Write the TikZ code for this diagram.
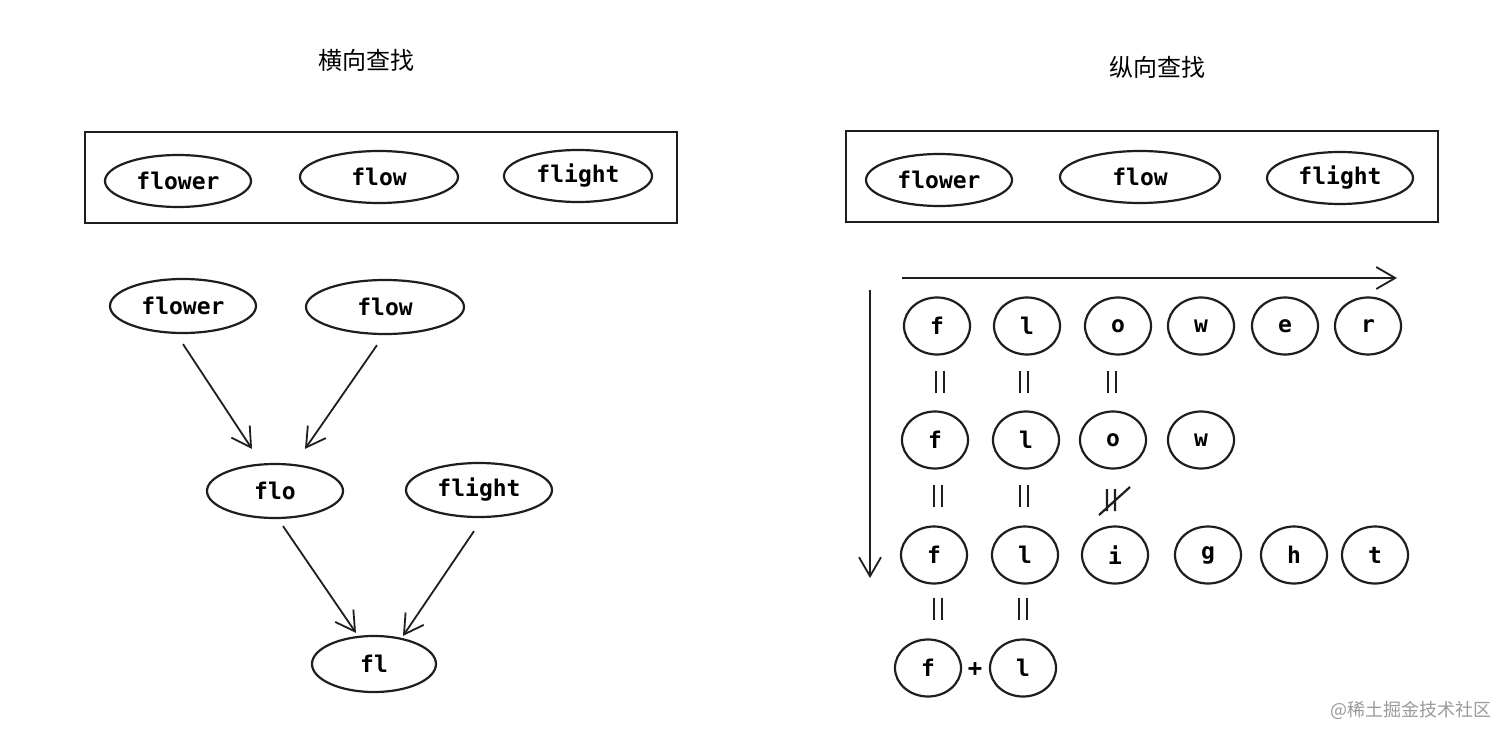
\documentclass[tikz,border=0pt]{standalone}
\usepackage{fontspec}
\setmonofont{DejaVu Sans Mono}
\newfontfamily\cjk{Noto Sans CJK SC}
\usetikzlibrary{arrows.meta,shapes.geometric}
\definecolor{Ink}{HTML}{1E1E1E}
\definecolor{Mark}{HTML}{9A9A9A}
\tikzset{
  frame/.style={draw=Ink,line width=2.2pt},
  word/.style={ellipse,draw=Ink,line width=2.2pt,inner sep=0pt,minimum height=52pt,font=\fontsize{23}{23}\ttfamily\bfseries},
  letter/.style={ellipse,draw=Ink,line width=2.2pt,inner sep=0pt,minimum width=66pt,minimum height=57pt,font=\fontsize{23}{23}\ttfamily\bfseries},
  arr/.style={-{Straight Barb[length=19pt,width=22pt]},line width=1.8pt,draw=Ink},
  title/.style={font=\cjk\fontsize{24}{24}\selectfont},
  eqbars/.pic={\draw[line width=2.2pt,draw=Ink] (-4,-11) -- (-4,11) (4,-11) -- (4,11);},
  neqbars/.pic={\draw[line width=2.2pt,draw=Ink] (-4,-11) -- (-4,11) (4,-11) -- (4,11) (-12,15) -- (19,-13);}
}
\begin{document}
\begin{tikzpicture}[x=1pt,y=-1pt]
  \useasboundingbox[fill=white] (0,0) rectangle (1512,741);
  % titles
  \node[title] (tleft) at (366,60) {横向查找};
  \node[title] (tright) at (1157,67) {纵向查找};
  % horizontal search
  \draw[frame] (85,132) rectangle (677,223);
  \node[word,minimum width=146pt] (w1) at (178,181) {flower};
  \node[word,minimum width=158pt] (w2) at (379,177) {flow};
  \node[word,minimum width=148pt] (w3) at (578,176) {flight};
  \node[word,minimum width=146pt,minimum height=54pt] (flower) at (183,306) {flower};
  \node[word,minimum width=158pt,minimum height=54pt] (flow) at (385,307) {flow};
  \node[word,minimum width=136pt,minimum height=54pt] (flo) at (275,491) {flo};
  \node[word,minimum width=146pt,minimum height=54pt] (flight) at (479,490) {flight};
  \node[word,minimum width=124pt,minimum height=56pt] (fl) at (374,664) {fl};
  \draw[arr] ([yshift=-10pt]flower.south) -- ([xshift=-23pt,yshift=14pt]flo.north);
  \draw[arr] ([xshift=-8pt,yshift=-10pt]flow.south) -- ([xshift=30pt,yshift=14pt]flo.north);
  \draw[arr] ([xshift=8pt,yshift=-7pt]flo.south) -- ([xshift=-18pt,yshift=2pt]fl.north);
  \draw[arr] ([xshift=-5pt,yshift=-13pt]flight.south) -- ([xshift=29pt,yshift=-1pt]fl.north);
  % vertical search
  \draw[frame] (846,131) rectangle (1438,222);
  \node[word,minimum width=146pt] (v1) at (939,180) {flower};
  \node[word,minimum width=160pt] (v2) at (1140,177) {flow};
  \node[word,minimum width=146pt] (v3) at (1340,178) {flight};
  \coordinate (hs) at (902,278);
  \coordinate (he) at (1397,278);
  \coordinate (vs) at (870,290);
  \coordinate (ve) at (870,578);
  \draw[arr] (hs) -- (he);
  \draw[arr] (vs) -- (ve);
  \foreach \ch/\x/\n in {f/937/1,l/1027/2,o/1118/3,w/1201/4,e/1285/5,r/1368/6}
    \node[letter] (a\n) at (\x,326) {\ch};
  \foreach \ch/\x/\n in {f/935/1,l/1026/2,o/1113/3,w/1201/4}
    \node[letter] (b\n) at (\x,440) {\ch};
  \foreach \ch/\x/\n in {f/934/1,l/1025/2,i/1115/3,g/1208/4,h/1294/5,t/1375/6}
    \node[letter] (c\n) at (\x,555) {\ch};
  \node[letter] (d1) at (928,668) {f};
  \node[letter] (d2) at (1023,668) {l};
  \node[font=\fontsize{24}{24}\ttfamily\bfseries] (plus) at (975,670) {+};
  \foreach \x in {940,1024,1112} \pic at (\x,382) {eqbars};
  \foreach \x in {938,1024} \pic at (\x,496) {eqbars};
  \pic at (1111,500) {neqbars};
  \foreach \x in {938,1023} \pic at (\x,609) {eqbars};
  % watermark
  \node[font=\cjk\fontsize{18}{18}\selectfont,text=Mark] (mark) at (1411,710) {@稀土掘金技术社区};
\end{tikzpicture}
\end{document}
